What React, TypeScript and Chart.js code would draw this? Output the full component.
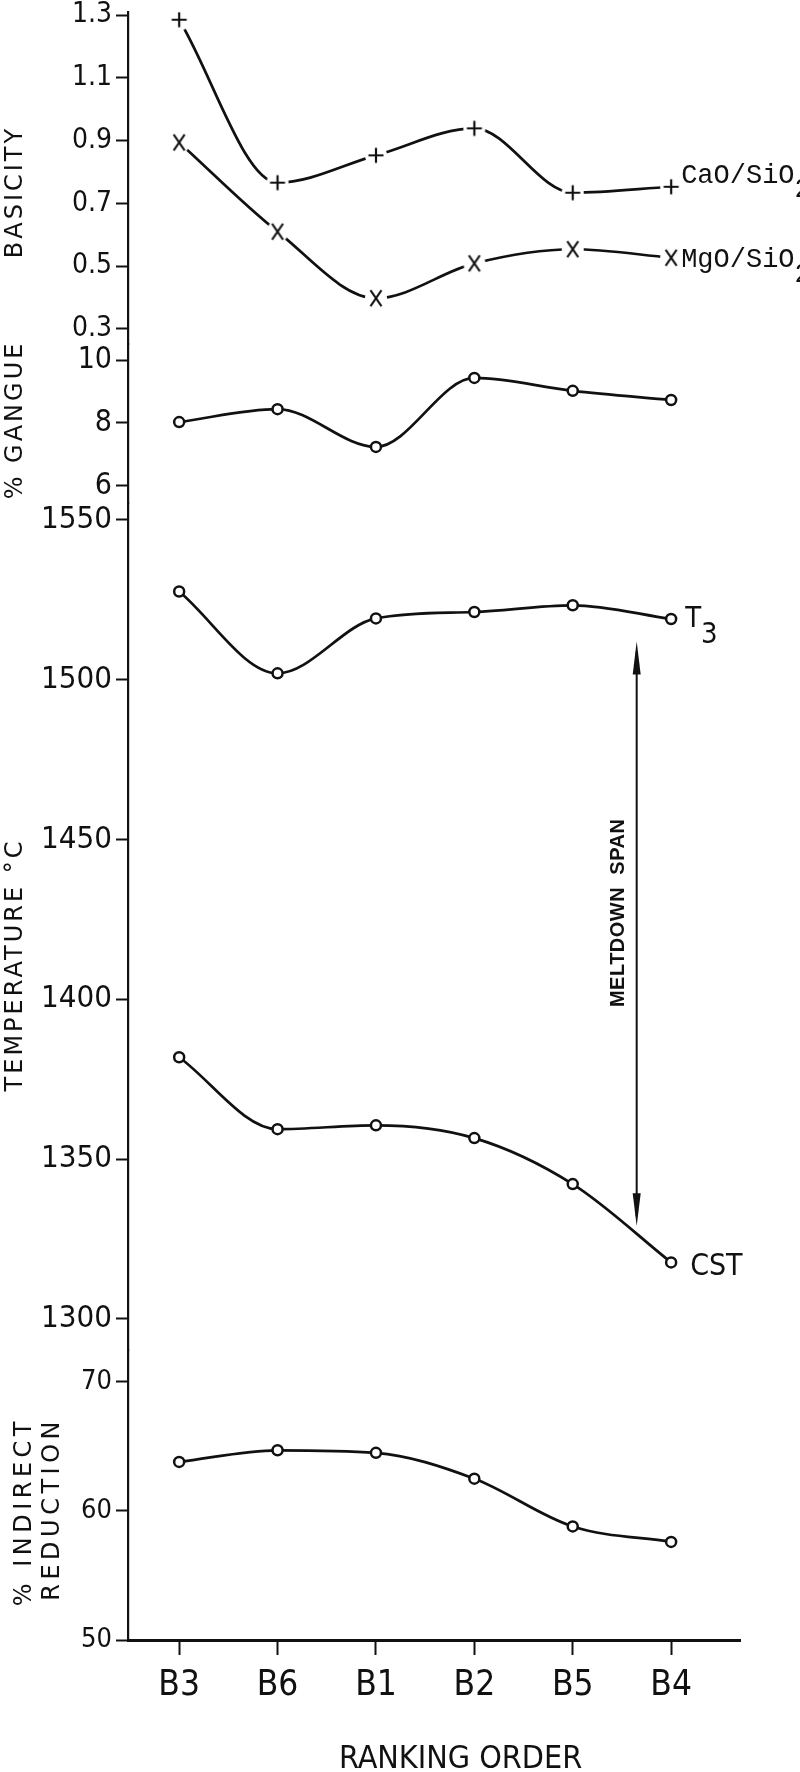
import React, { useEffect, useRef } from "react";
import { Chart, registerables } from "chart.js";

Chart.register(...registerables);

// ---------- data ----------
const CATEGORIES = ["B3", "B6", "B1", "B2", "B5", "B4"];
const CAO_SIO2 = [1.285, 0.766, 0.853, 0.939, 0.734, 0.753];
const MGO_SIO2 = [0.894, 0.61, 0.398, 0.509, 0.554, 0.527];
const GANGUE = [8.03, 8.44, 7.24, 9.43, 9.02, 8.73];
const T3_TEMP = [1527.6, 1502, 1519.2, 1521.2, 1523.3, 1519];
const CST_TEMP = [1381.9, 1359.4, 1360.6, 1356.6, 1342.2, 1317.7];
const INDIRECT = [63.8, 64.7, 64.5, 62.5, 58.8, 57.6];

const BASICITY_TICKS = [0.3, 0.5, 0.7, 0.9, 1.1, 1.3];
const GANGUE_TICKS = [6, 8, 10];
const TEMP_TICKS = [1300, 1350, 1400, 1450, 1500, 1550];
const REDUCTION_TICKS = [50, 60, 70];

// meltdown span arrow, in category / temperature units
const MELTDOWN_X = 4.65;
const MELTDOWN_TOP = 1512;
const MELTDOWN_BOTTOM = 1329;

// ---------- style ----------
const INK = "#111";
const NARROW = "'Liberation Sans Narrow', 'DejaVu Sans Condensed', 'Liberation Sans', sans-serif";
const SANS = "'DejaVu Sans', 'Liberation Sans', sans-serif";
const ARIAL = "'Liberation Sans', 'DejaVu Sans', sans-serif";
const MONO = "'Liberation Mono', 'DejaVu Sans Mono', monospace";

function makeMarker(kind: "plus" | "x"): HTMLCanvasElement {
  const c = document.createElement("canvas");
  c.width = 28;
  c.height = 28;
  const g = c.getContext("2d")!;
  g.fillStyle = "#fff";
  g.beginPath();
  g.arc(14, 14, 11, 0, Math.PI * 2);
  g.fill();
  g.strokeStyle = INK;
  g.lineWidth = 2.2;
  g.beginPath();
  if (kind === "plus") {
    g.moveTo(6.5, 14);
    g.lineTo(21.5, 14);
    g.moveTo(14, 6.5);
    g.lineTo(14, 21.5);
  } else {
    g.moveTo(8.5, 6);
    g.lineTo(19.5, 22);
    g.moveTo(19.5, 6);
    g.lineTo(8.5, 22);
  }
  g.stroke();
  return c;
}

function yScale(
  min: number,
  max: number,
  ticks: number[],
  weight: number,
  stackWeight: number,
  fontSize: number,
  decimals: number
) {
  return {
    type: "linear",
    position: "left",
    stack: "left",
    weight,
    stackWeight,
    min,
    max,
    afterBuildTicks: (s: any) => {
      s.ticks = ticks.map((v) => ({ value: v }));
    },
    afterFit: (s: any) => {
      s.width = 128;
      s.paddingTop = 0;
      s.paddingBottom = 0;
    },
    border: { display: true, color: INK, width: 2.2 },
    grid: {
      display: true,
      drawOnChartArea: false,
      drawTicks: true,
      tickLength: 12,
      tickWidth: 2,
      tickColor: INK,
    },
    ticks: {
      autoSkip: false,
      padding: 4,
      color: INK,
      font: { family: NARROW, size: fontSize },
      callback: (v: any) => Number(v).toFixed(decimals),
    },
  };
}

function rotText(ctx: CanvasRenderingContext2D, text: string, cx: number, cy: number, font: string, spacing: number, align: CanvasTextAlign = "center") {
  ctx.save();
  ctx.translate(cx, cy);
  ctx.rotate(-Math.PI / 2);
  ctx.font = font;
  (ctx as any).letterSpacing = spacing + "px";
  ctx.textAlign = align;
  ctx.textBaseline = "middle";
  ctx.fillText(text, 0, 0);
  ctx.restore();
}

function subText(ctx: CanvasRenderingContext2D, main: string, sub: string, x: number, base: number, font: string, drop: number) {
  ctx.save();
  ctx.font = font;
  (ctx as any).letterSpacing = "0px";
  ctx.textAlign = "left";
  ctx.textBaseline = "alphabetic";
  ctx.fillText(main, x, base);
  const w = ctx.measureText(main).width;
  if (sub) ctx.fillText(sub, x + w, base + drop);
  ctx.restore();
}

const annotate = {
  id: "annotate",
  afterDraw(chart: any) {
    const { ctx, scales } = chart;
    const xs = scales.x;
    const yB = scales.yBas;
    const yT = scales.yTemp;
    const last = CATEGORIES.length - 1;
    const xr = xs.getPixelForValue(last);
    ctx.save();
    ctx.fillStyle = INK;
    ctx.strokeStyle = INK;

    // series labels at right
    subText(ctx, "CaO/SiO", "2", xr + 10, yB.getPixelForValue(CAO_SIO2[last]) - 4, `27px ${MONO}`, 14);
    subText(ctx, "MgO/SiO", "2", xr + 10, yB.getPixelForValue(MGO_SIO2[last]) + 9, `27px ${MONO}`, 15);
    subText(ctx, "T", "3", xr + 14, yT.getPixelForValue(T3_TEMP[last]) + 8, `29px ${NARROW}`, 16);
    subText(ctx, "CST", "", xr + 19, yT.getPixelForValue(CST_TEMP[last]) + 13, `30px ${NARROW}`, 0);

    // meltdown span arrow
    const ax = xs.getPixelForValue(MELTDOWN_X);
    const at = yT.getPixelForValue(MELTDOWN_TOP);
    const ab = yT.getPixelForValue(MELTDOWN_BOTTOM);
    ctx.lineWidth = 2;
    ctx.beginPath();
    ctx.moveTo(ax, at + 10);
    ctx.lineTo(ax, ab - 10);
    ctx.stroke();
    ctx.beginPath();
    ctx.moveTo(ax, at);
    ctx.lineTo(ax - 4, at + 33);
    ctx.lineTo(ax + 4, at + 33);
    ctx.closePath();
    ctx.fill();
    ctx.beginPath();
    ctx.moveTo(ax, ab);
    ctx.lineTo(ax - 4, ab - 33);
    ctx.lineTo(ax + 4, ab - 33);
    ctx.closePath();
    ctx.fill();
    rotText(ctx, "MELTDOWN  SPAN", ax - 18, (at + ab) / 2 - 21, `bold 20px ${ARIAL}`, 0.5);

    // axis titles
    rotText(ctx, "BASICITY", 16, 192, `24px ${SANS}`, 3);
    rotText(ctx, "% GANGUE", 16, 420, `24px ${SANS}`, 3);
    rotText(ctx, "TEMPERATURE °C", 16, 965, `24px ${SANS}`, 3);
    rotText(ctx, "% INDIRECT", 25, 1417, `24px ${SANS}`, 4.5, "right");
    rotText(ctx, "REDUCTION", 53, 1417, `24px ${SANS}`, 4.5, "right");

    // x title
    ctx.font = `32px ${NARROW}`;
    (ctx as any).letterSpacing = "0px";
    ctx.textAlign = "center";
    ctx.textBaseline = "alphabetic";
    ctx.fillText("RANKING ORDER", xs.getPixelForValue(2.86), chart.height - 4);
    ctx.restore();
  },
};

export default function App() {
  const ref = useRef<HTMLCanvasElement | null>(null);

  useEffect(() => {
    if (!ref.current) return;
    const plus = makeMarker("plus");
    const cross = makeMarker("x");
    const toXY = (vals: number[]) => vals.map((y, i) => ({ x: i, y }));
    const line = (label: string, vals: number[], yAxisID: string, pointStyle: any, radius: number) => ({
      label,
      data: toXY(vals),
      yAxisID,
      xAxisID: "x",
      borderColor: INK,
      borderWidth: 2.7,
      cubicInterpolationMode: "monotone",
      fill: false,
      pointStyle,
      pointRadius: radius,
      pointHoverRadius: radius,
      pointBackgroundColor: "#fff",
      pointBorderColor: INK,
      pointBorderWidth: 2.5,
    });

    const chart = new Chart(ref.current, {
      type: "line",
      data: {
        datasets: [
          line("CaO/SiO2", CAO_SIO2, "yBas", plus, 6),
          line("MgO/SiO2", MGO_SIO2, "yBas", cross, 6),
          line("% Gangue", GANGUE, "yGan", "circle", 5),
          line("T3", T3_TEMP, "yTemp", "circle", 5),
          line("CST", CST_TEMP, "yTemp", "circle", 5),
          line("% Indirect reduction", INDIRECT, "yRed", "circle", 5),
        ] as any,
      },
      options: {
        animation: false,
        responsive: true,
        maintainAspectRatio: false,
        events: [],
        layout: { padding: { left: 0, top: 12, right: 60, bottom: 0 } },
        plugins: { legend: { display: false }, tooltip: { enabled: false } },
        scales: {
          x: {
            type: "linear",
            position: "bottom",
            min: -0.52,
            max: 5.7,
            afterBuildTicks: (s: any) => {
              s.ticks = CATEGORIES.map((_, i) => ({ value: i }));
            },
            afterFit: (s: any) => {
              s.height = 132;
              s.paddingLeft = 0;
              s.paddingRight = 0;
            },
            border: { display: true, color: INK, width: 3 },
            grid: { display: true, drawOnChartArea: false, drawTicks: true, tickLength: 15, tickWidth: 2, tickColor: INK },
            ticks: {
              autoSkip: false,
              maxRotation: 0,
              padding: 10,
              color: INK,
              font: { family: NARROW, size: 35 },
              callback: (v: any) => CATEGORIES[Math.round(Number(v))] ?? "",
            },
          },
          yBas: yScale(0.2522, 1.3096, BASICITY_TICKS, 4, 332, 28, 1),
          yGan: yScale(5.46, 10.508, GANGUE_TICKS, 3, 159, 30, 0),
          yTemp: yScale(1290.3, 1555.3, TEMP_TICKS, 2, 847, 31, 0),
          yRed: yScale(50, 72.47, REDUCTION_TICKS, 1, 290, 27, 0),
        } as any,
      },
      plugins: [annotate],
    });
    return () => chart.destroy();
  }, []);

  return (
    <div style={{ position: "absolute", left: 0, top: 0, width: 800, height: 1772, background: "#fff" }}>
      <canvas ref={ref} />
    </div>
  );
}
